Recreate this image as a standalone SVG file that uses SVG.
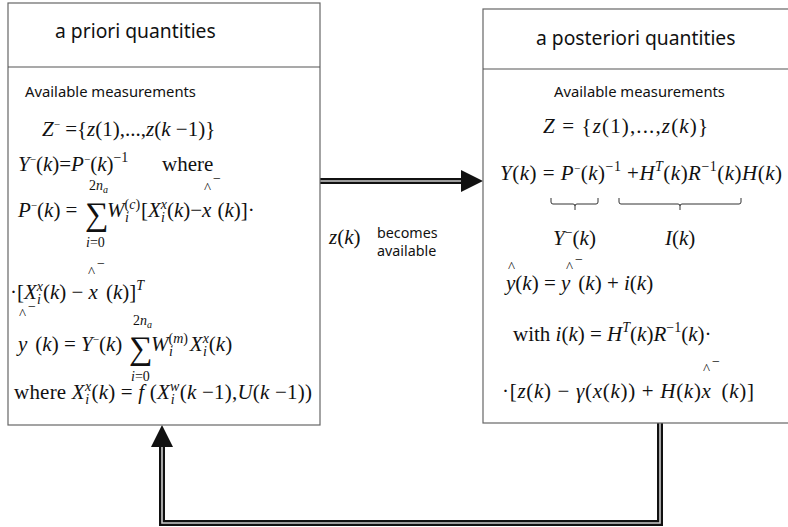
<svg xmlns="http://www.w3.org/2000/svg" width="788" height="527" viewBox="0 0 788 527">
<style>
.box{fill:#fff;stroke:#666;stroke-width:1.2}
.div{stroke:#555;stroke-width:1.2}
.hd{font-family:"Noto Sans","Open Sans",sans-serif;font-size:19.3px;fill:#111}
.am{font-family:"Noto Sans","Open Sans",sans-serif;font-size:14.8px;fill:#111}
.bc{font-family:"Noto Sans","Open Sans",sans-serif;font-size:14.3px;fill:#111}
.m{font-family:"Liberation Serif","Times New Roman",serif;font-size:21px;fill:#111}
.i{font-style:italic}
.s{font-size:14px}
.sm{font-size:11px}
.ss{font-size:10px}
.sg{font-family:"Liberation Serif","Times New Roman",serif;font-size:33px;fill:#111}
.c{font-family:"Liberation Serif",serif;font-size:15px;fill:#111}
.dl1{fill:none;stroke:#111;stroke-width:6}
.dl2{fill:none;stroke:#ccc;stroke-width:1.6}
.br{fill:none;stroke:#333;stroke-width:1}
</style>

<g id="connectors">
  <path class="dl1" d="M320,181 H463"/>
  <path class="dl2" d="M320,181 H463"/>
  <polygon points="461,170 483,181 461,192" fill="#111"/>
  <path class="dl1" d="M660,423 V523 H162 V446"/>
  <path class="dl2" d="M660,423 V523 H162 V446"/>
  <polygon points="151,447 162,425 173,447" fill="#111"/>
</g>

<g id="label-zk">
  <text class="m" x="329" y="244"><tspan class="i">z</tspan>(<tspan class="i">k</tspan>)</text>
  <text class="bc" x="377" y="238">becomes</text>
  <text class="bc" x="377" y="256">available</text>
</g>

<g id="apriori">
  <rect class="box" x="8" y="3" width="312" height="422"/>
  <line class="div" x1="8" y1="67" x2="320" y2="67"/>
  <text class="hd" x="55" y="38">a priori quantities</text>
  <text class="am" x="25" y="97">Available measurements</text>

  <text class="m" x="42" y="136"><tspan class="i">Z</tspan><tspan class="sm" dy="-8">−</tspan><tspan dy="8"> ={</tspan><tspan class="i">z</tspan>(1),...,<tspan class="i">z</tspan>(<tspan class="i">k</tspan> −1)}</text>

  <text class="m" x="18" y="171"><tspan class="i">Y</tspan><tspan class="sm" dy="-8">−</tspan><tspan dy="8">(</tspan><tspan class="i">k</tspan>)=<tspan class="i">P</tspan><tspan class="sm" dy="-8">−</tspan><tspan dy="8">(</tspan><tspan class="i">k</tspan>)<tspan class="s" dy="-9">−1</tspan><tspan dy="9" x="162">where</tspan></text>

  <text class="m" x="18" y="217"><tspan class="i">P</tspan><tspan class="sm" dy="-8">−</tspan><tspan dy="8">(</tspan><tspan class="i">k</tspan>) =</text>
  <text class="sg" x="85" y="225">∑</text>
  <text class="m s" x="89" y="190">2<tspan class="i">n</tspan><tspan class="ss i" dy="3">a</tspan></text>
  <text class="m s" x="86" y="247"><tspan class="i">i</tspan>=0</text>
  <text class="m" x="107" y="217"><tspan class="i">W</tspan><tspan class="s" dy="-8">(</tspan><tspan class="s i">c</tspan><tspan class="s">)</tspan><tspan class="s i" dx="-15" dy="13">i</tspan><tspan dx="12" dy="-5">[</tspan><tspan class="i">X</tspan><tspan class="s i" dy="-8">x</tspan><tspan class="s i" dx="-6" dy="13">i</tspan><tspan dx="2" dy="-5">(</tspan><tspan class="i">k</tspan>)−<tspan class="i">x</tspan><tspan dx="6">(</tspan><tspan class="i">k</tspan>)]·</text>
  <text class="c" x="204" y="193">^</text>
  <text class="m s" x="213" y="183">−</text>

  <text class="m" x="10" y="299">·[<tspan class="i">X</tspan><tspan class="s i" dy="-8">x</tspan><tspan class="s i" dx="-6" dy="13">i</tspan><tspan dx="2" dy="-5">(</tspan><tspan class="i">k</tspan>) − <tspan class="i">x</tspan><tspan dx="8">(</tspan><tspan class="i">k</tspan>)]<tspan class="s i" dy="-9">T</tspan></text>
  <text class="c" x="88" y="277">^</text>
  <text class="m s" x="97" y="268">−</text>

  <text class="m" x="18" y="351"><tspan class="i">y</tspan><tspan dx="8">(</tspan><tspan class="i">k</tspan>) = <tspan class="i">Y</tspan><tspan class="sm" dy="-8">−</tspan><tspan dy="8">(</tspan><tspan class="i">k</tspan>)</text>
  <text class="c" x="19" y="319">^</text>
  <text class="m s" x="28" y="311">−</text>
  <text class="sg" x="129" y="359">∑</text>
  <text class="m s" x="133" y="325">2<tspan class="i">n</tspan><tspan class="ss i" dy="3">a</tspan></text>
  <text class="m s" x="131" y="381"><tspan class="i">i</tspan>=0</text>
  <text class="m" x="151" y="351"><tspan class="i">W</tspan><tspan class="s" dy="-8">(</tspan><tspan class="s i">m</tspan><tspan class="s">)</tspan><tspan class="s i" dx="-19" dy="13">i</tspan><tspan dx="17" dy="-5" class="i">X</tspan><tspan class="s i" dy="-8">x</tspan><tspan class="s i" dx="-6" dy="13">i</tspan><tspan dx="2" dy="-5">(</tspan><tspan class="i">k</tspan>)</text>

  <text class="m" x="14" y="399" textLength="298" lengthAdjust="spacing">where <tspan class="i">X</tspan><tspan class="s i" dy="-8">x</tspan><tspan class="s i" dx="-6" dy="13">i</tspan><tspan dx="2" dy="-5">(</tspan><tspan class="i">k</tspan>) = <tspan class="i">f</tspan> (<tspan class="i">X</tspan><tspan class="s i" dy="-8">w</tspan><tspan class="s i" dx="-9" dy="13">i</tspan><tspan dx="5" dy="-5">(</tspan><tspan class="i">k</tspan> −1),<tspan class="i">U</tspan>(<tspan class="i">k</tspan> −1))</text>
</g>

<g id="aposteriori">
  <rect class="box" x="483" y="9" width="312" height="414"/>
  <line class="div" x1="483" y1="69" x2="795" y2="69"/>
  <text class="hd" x="536" y="45">a posteriori quantities</text>
  <text class="am" x="554" y="97">Available measurements</text>

  <text class="m" x="543" y="133" textLength="165" lengthAdjust="spacing"><tspan class="i">Z</tspan> = {<tspan class="i">z</tspan>(1),...,<tspan class="i">z</tspan>(<tspan class="i">k</tspan>)}</text>

  <text class="m" x="500" y="180" textLength="282" lengthAdjust="spacing"><tspan class="i">Y</tspan>(<tspan class="i">k</tspan>) = <tspan class="i">P</tspan><tspan class="sm" dy="-8">−</tspan><tspan dy="8">(</tspan><tspan class="i">k</tspan>)<tspan class="s" dy="-9">−1</tspan><tspan dy="9"> +</tspan><tspan class="i">H</tspan><tspan class="s i" dy="-9">T</tspan><tspan dy="9">(</tspan><tspan class="i">k</tspan>)<tspan class="i">R</tspan><tspan class="s" dy="-9">−1</tspan><tspan dy="9">(</tspan><tspan class="i">k</tspan>)<tspan class="i">H</tspan>(<tspan class="i">k</tspan>)</text>

  <path class="br" d="M551,198 V202 Q551,204 553,204 H573 Q575,204 575,206 V210 M575,206 Q575,204 577,204 H596 Q598,204 598,202 V198"/>
  <path class="br" d="M619,198 V202 Q619,204 621,204 H678 Q680,204 680,206 V210 M680,206 Q680,204 682,204 H739 Q741,204 741,202 V198"/>

  <text class="m" x="553" y="245"><tspan class="i">Y</tspan><tspan class="s" dy="-8">−</tspan><tspan dy="8">(</tspan><tspan class="i">k</tspan>)</text>
  <text class="m" x="665" y="245"><tspan class="i">I</tspan>(<tspan class="i">k</tspan>)</text>

  <text class="m" x="506" y="290"><tspan class="i">y</tspan>(<tspan class="i">k</tspan>) = <tspan class="i">y</tspan><tspan dx="8">(</tspan><tspan class="i">k</tspan>) + <tspan class="i">i</tspan>(<tspan class="i">k</tspan>)</text>
  <text class="c" x="508" y="272">^</text>
  <text class="c" x="566" y="272">^</text>
  <text class="m s" x="575" y="264">−</text>

  <text class="m" x="513" y="341">with  <tspan class="i">i</tspan>(<tspan class="i">k</tspan>) = <tspan class="i">H</tspan><tspan class="s i" dy="-9">T</tspan><tspan dy="9">(</tspan><tspan class="i">k</tspan>)<tspan class="i">R</tspan><tspan class="s" dy="-9">−1</tspan><tspan dy="9">(</tspan><tspan class="i">k</tspan>)·</text>

  <text class="m" x="502" y="398" textLength="252" lengthAdjust="spacing">·[<tspan class="i">z</tspan>(<tspan class="i">k</tspan>) − <tspan class="i">γ</tspan>(<tspan class="i">x</tspan>(<tspan class="i">k</tspan>)) + <tspan class="i">H</tspan>(<tspan class="i">k</tspan>)<tspan class="i">x</tspan><tspan dx="10">(</tspan><tspan class="i">k</tspan>)]</text>
  <text class="c" x="703" y="374">^</text>
  <text class="m s" x="712" y="366">−</text>
</g>
</svg>
